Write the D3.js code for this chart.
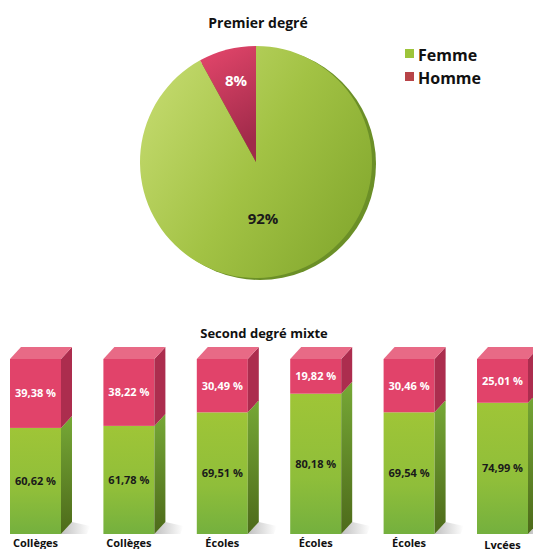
<!DOCTYPE html>
<html><head><meta charset="utf-8">
<script src="https://cdn.jsdelivr.net/npm/d3@7/dist/d3.min.js"></script>
<style>body{margin:0;background:#fff}svg{display:block}text{font-family:"Open Sans","Noto Sans",sans-serif;font-weight:700}</style>
</head><body>
<script>
const pieLabels = ["Femme","Homme"];
const pieValues = [92, 8];
const categories = ["Collèges","Collèges","Écoles","Écoles","Écoles","Lycées"];
const femme = [60.62, 61.78, 69.51, 80.18, 69.54, 74.99];
const homme = [39.38, 38.22, 30.49, 19.82, 30.46, 25.01];
const femmeLbl = ["60,62 %","61,78 %","69,51 %","80,18 %","69,54 %","74,99 %"];
const hommeLbl = ["39,38 %","38,22 %","30,49 %","19,82 %","30,46 %","25,01 %"];

const W=533,H=549;
const svg=d3.select("body").append("svg").attr("width",W).attr("height",H);
const defs=svg.append("defs");
function lg(id,x1,y1,x2,y2,stops){const g=defs.append("linearGradient").attr("id",id).attr("x1",x1).attr("y1",y1).attr("x2",x2).attr("y2",y2);stops.forEach(s=>g.append("stop").attr("offset",s[0]).attr("stop-color",s[1]));}
lg("pg","0","0.2","1","0.8",[[0,"#c4da6e"],[0.5,"#a2c244"],[1,"#83a82e"]]);
lg("ph","0","0","0.3","1",[[0,"#e6476c"],[1,"#a02a4a"]]);
lg("fg","0","0","0","1",[[0,"#9fc537"],[0.6,"#8fbe3a"],[1,"#74b03e"]]);
lg("sg","0","0","0","1",[[0,"#76a836"],[1,"#4d6a1a"]]);
lg("sh","0","0","1","0",[[0,"#b0b0b0"],[1,"#ffffff"]]);

// Pie
const cx=256, cy=162, r=116;
svg.append("text").attr("x",258).attr("y",28).attr("text-anchor","middle").attr("font-size",14).attr("fill","#111").text("Premier degré");
svg.append("circle").attr("cx",cx+4).attr("cy",cy+2).attr("r",r).attr("fill","#6b8f27");
const pie=d3.pie().sort(null).value(d=>d)(pieValues);
const arc=d3.arc().innerRadius(0).outerRadius(r);
const pg=svg.append("g").attr("transform",`translate(${cx},${cy})`);
pg.selectAll("path").data(pie).join("path").attr("d",arc).attr("fill",(d,i)=>i===0?"url(#pg)":"url(#ph)");
pg.append("text").attr("x",7).attr("y",62).attr("text-anchor","middle").attr("font-size",15).attr("fill","#1a1a1a").text(pieValues[0]+"%");
pg.append("text").attr("x",-20).attr("y",-76).attr("text-anchor","middle").attr("font-size",15).attr("fill","#fff").text(pieValues[1]+"%");
// legend
const legC=["#9dc43a","#b84448"];
pieLabels.forEach((l,i)=>{
  svg.append("rect").attr("x",405).attr("y",49+i*23).attr("width",9).attr("height",9).attr("fill",legC[i]);
  svg.append("text").attr("x",418).attr("y",61+i*23).attr("font-size",16).attr("fill","#111").text(l);
});

// Bars
svg.append("text").attr("x",264).attr("y",338).attr("text-anchor","middle").attr("font-size",13).attr("fill","#111").text("Second degré mixte");
const x=d3.scaleBand().domain(d3.range(categories.length)).range([10,528]).paddingInner(0.454).paddingOuter(0);
const y=d3.scaleLinear().domain([0,100]).range([534,359]);
const dx=11, dy=-12, bw=x.bandwidth();
const g=svg.append("g");
categories.forEach((c,i)=>{
  const x0=x(i), x1=x0+bw;
  const yb=y(0), yt=y(100), ym=y(femme[i]);
  g.append("path").attr("d",`M${x1},${yb} L${x1+dx},${yb+dy} L${x1+dx+18},${yb+dy+4} L${x1+26},${yb} Z`).attr("fill","url(#sh)").attr("opacity",0.8);
  g.append("rect").attr("x",x0).attr("y",ym).attr("width",bw).attr("height",yb-ym).attr("fill","url(#fg)");
  g.append("rect").attr("x",x0).attr("y",yt).attr("width",bw).attr("height",ym-yt).attr("fill","#e1436a");
  g.append("path").attr("d",`M${x1},${ym} L${x1+dx},${ym+dy} L${x1+dx},${yb+dy} L${x1},${yb} Z`).attr("fill","url(#sg)");
  g.append("path").attr("d",`M${x1},${yt} L${x1+dx},${yt+dy} L${x1+dx},${ym+dy} L${x1},${ym} Z`).attr("fill","#ac2d4e");
  g.append("path").attr("d",`M${x0},${yt} L${x0+dx},${yt+dy} L${x1+dx},${yt+dy} L${x1},${yt} Z`).attr("fill","#e86a86");
  g.append("text").attr("x",x0+bw/2).attr("y",(yt+ym)/2+4).attr("text-anchor","middle").attr("font-size",11).attr("fill","#fff").text(hommeLbl[i]);
  g.append("text").attr("x",x0+bw/2).attr("y",(ym+yb)/2+4).attr("text-anchor","middle").attr("font-size",11).attr("fill","#1a1a1a").text(femmeLbl[i]);
  g.append("text").attr("x",x0+bw/2).attr("y",i===5?549:547).attr("text-anchor","middle").attr("font-size",11).attr("fill","#111").text(c);
});
</script>
</body></html>
